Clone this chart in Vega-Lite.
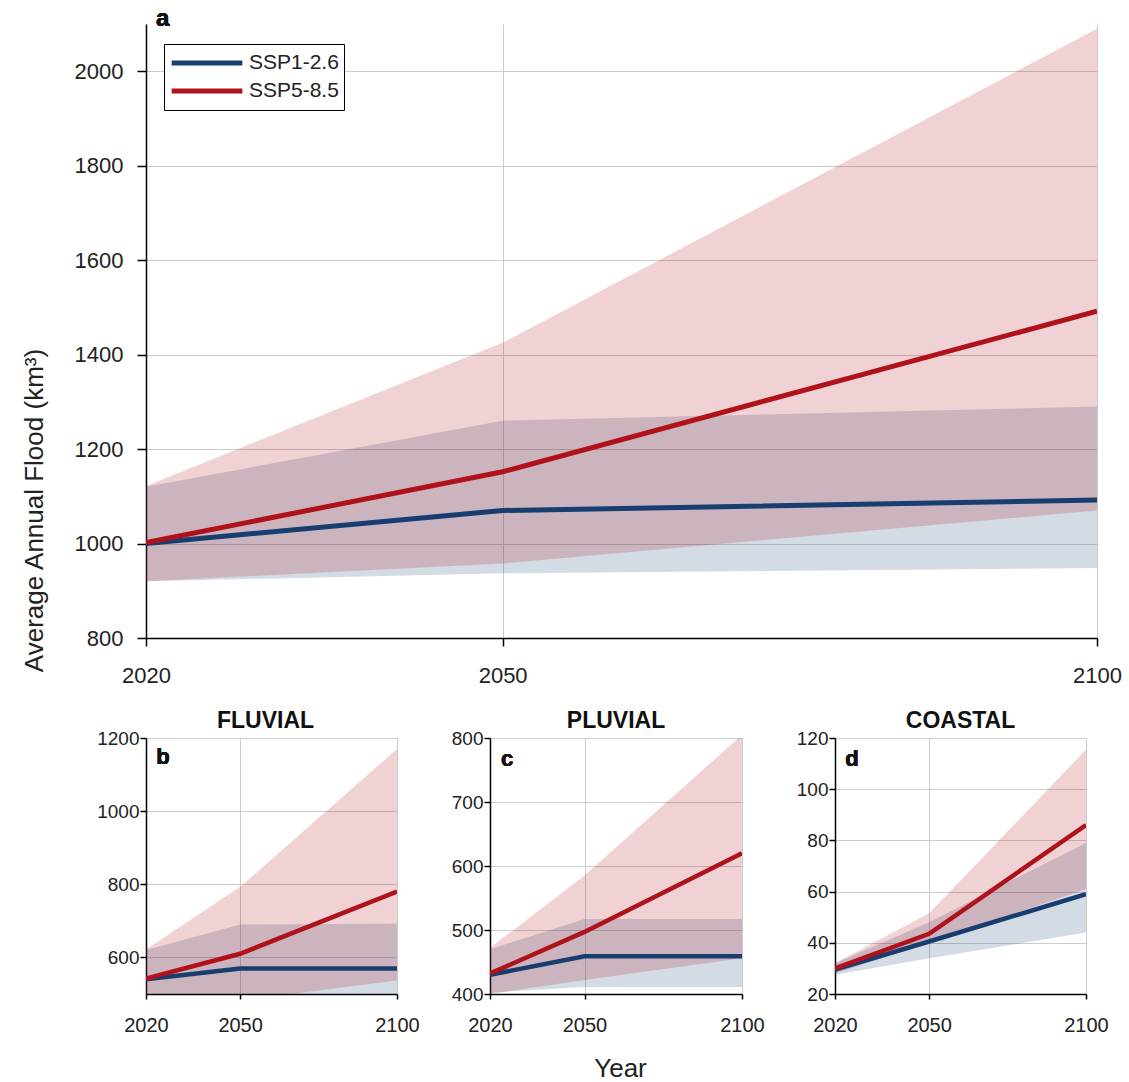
{
  "$schema": "https://vega.github.io/schema/vega-lite/v6.json",
  "padding": {"left": 21, "top": 6, "right": 0, "bottom": 2},
  "background": "#ffffff",
  "datasets": {
    "flood": [
      {"panel": "a", "scenario": "SSP1-2.6", "year": 2020, "med": 1000, "lo": 920, "hi": 1120},
      {"panel": "a", "scenario": "SSP1-2.6", "year": 2050, "med": 1070, "lo": 937, "hi": 1260},
      {"panel": "a", "scenario": "SSP1-2.6", "year": 2100, "med": 1092, "lo": 948, "hi": 1290},
      {"panel": "a", "scenario": "SSP5-8.5", "year": 2020, "med": 1002, "lo": 920, "hi": 1122},
      {"panel": "a", "scenario": "SSP5-8.5", "year": 2050, "med": 1152, "lo": 958, "hi": 1425},
      {"panel": "a", "scenario": "SSP5-8.5", "year": 2100, "med": 1492, "lo": 1070, "hi": 2090},
      {"panel": "b", "scenario": "SSP1-2.6", "year": 2020, "med": 540, "lo": 440, "hi": 620},
      {"panel": "b", "scenario": "SSP1-2.6", "year": 2050, "med": 570, "lo": 455, "hi": 690},
      {"panel": "b", "scenario": "SSP1-2.6", "year": 2100, "med": 570, "lo": 470, "hi": 692},
      {"panel": "b", "scenario": "SSP5-8.5", "year": 2020, "med": 542, "lo": 460, "hi": 622},
      {"panel": "b", "scenario": "SSP5-8.5", "year": 2050, "med": 610, "lo": 482, "hi": 793},
      {"panel": "b", "scenario": "SSP5-8.5", "year": 2100, "med": 780, "lo": 537, "hi": 1170},
      {"panel": "c", "scenario": "SSP1-2.6", "year": 2020, "med": 430, "lo": 402, "hi": 470},
      {"panel": "c", "scenario": "SSP1-2.6", "year": 2050, "med": 459, "lo": 411, "hi": 517},
      {"panel": "c", "scenario": "SSP1-2.6", "year": 2100, "med": 459, "lo": 411, "hi": 517},
      {"panel": "c", "scenario": "SSP5-8.5", "year": 2020, "med": 432, "lo": 400, "hi": 472},
      {"panel": "c", "scenario": "SSP5-8.5", "year": 2050, "med": 497, "lo": 422, "hi": 585},
      {"panel": "c", "scenario": "SSP5-8.5", "year": 2100, "med": 620, "lo": 456, "hi": 805},
      {"panel": "d", "scenario": "SSP1-2.6", "year": 2020, "med": 29.5, "lo": 27.5, "hi": 32},
      {"panel": "d", "scenario": "SSP1-2.6", "year": 2050, "med": 40.5, "lo": 34, "hi": 48},
      {"panel": "d", "scenario": "SSP1-2.6", "year": 2100, "med": 59, "lo": 44, "hi": 79},
      {"panel": "d", "scenario": "SSP5-8.5", "year": 2020, "med": 30, "lo": 28, "hi": 32},
      {"panel": "d", "scenario": "SSP5-8.5", "year": 2050, "med": 43.5, "lo": 40, "hi": 51.5},
      {"panel": "d", "scenario": "SSP5-8.5", "year": 2100, "med": 86, "lo": 61, "hi": 115.5}
    ]
  },
  "config": {
    "font": "Liberation Sans",
    "view": {"stroke": null},
    "axis": {
      "domainColor": "#000000", "domainWidth": 1.5,
      "tickColor": "#000000", "tickWidth": 1.5,
      "gridColor": "#cccccc", "gridWidth": 1,
      "labelColor": "#222222", "labelFont": "Liberation Sans",
      "titleFont": "Liberation Sans", "titleColor": "#222222", "titleFontWeight": "normal",
      "labelFlush": false, "labelOverlap": false, "format": "d"
    }
  },
  "resolve": {"scale": {"x": "independent", "y": "independent", "color": "independent"}},
  "bounds": "flush",
  "spacing": 100,
  "vconcat": [
    {
      "width": 951, "height": 614,
      "data": {"name": "flood"},
      "transform": [{"filter": "datum.panel === 'a'"}],
      "layer": [
        {
          "mark": {"type": "area", "clip": true, "fillOpacity": 0.19},
          "encoding": {
            "x": {"field": "year", "type": "quantitative", "scale": {"domain": [2020, 2100], "nice": false, "zero": false},
                  "axis": {"values": [2020, 2050, 2100], "format": "d", "title": null, "labelFontSize": 22, "tickSize": 8, "labelPadding": 19, "grid": true}},
            "y": {"field": "lo", "type": "quantitative", "scale": {"domain": [800, 2100], "nice": false, "zero": false},
                  "axis": {"values": [800, 1000, 1200, 1400, 1600, 1800, 2000], "format": "d", "labelFontSize": 22, "tickSize": 9, "labelPadding": 14, "grid": true,
                           "title": "Average Annual Flood (km³)", "titleFontSize": 26, "titleAngle": 270, "titleAlign": "center", "titleBaseline": "alphabetic", "titleX": -104, "titleY": 486}},
            "y2": {"field": "hi"},
            "color": {"field": "scenario", "type": "nominal", "scale": {"domain": ["SSP1-2.6", "SSP5-8.5"], "range": ["#173e6e", "#b0121c"]}}
          }
        },
        {
          "mark": {"type": "line", "strokeWidth": 5, "clip": true},
          "encoding": {
            "x": {"field": "year", "type": "quantitative"},
            "y": {"field": "med", "type": "quantitative"},
            "color": {"field": "scenario", "type": "nominal",
                      "legend": {"orient": "none", "legendX": 18, "legendY": 20, "title": null, "symbolType": "stroke", "symbolSize": 5000, "symbolStrokeWidth": 5,
                                 "symbolOpacity": 1, "clipHeight": 28, "rowPadding": 0, "labelFontSize": 21, "labelFont": "Liberation Sans", "labelColor": "#222222",
                                 "padding": 5, "strokeColor": "#000000", "fillColor": "#ffffff", "labelOffset": 4}}
          }
        },
        {
          "mark": {"type": "text", "fontSize": 24, "fontWeight": "bold", "align": "center", "baseline": "alphabetic", "color": "#111111"},
          "encoding": {
            "x": {"datum": 2021.4, "type": "quantitative"},
            "y": {"datum": 2096, "type": "quantitative"},
            "text": {"value": "a"}
          }
        }
      ]
    },
    {
      "bounds": "flush",
      "spacing": 93,
      "resolve": {"scale": {"x": "independent", "y": "independent", "color": "independent"}},
      "hconcat": [
        {
          "width": 251, "height": 256,
          "title": {"text": "FLUVIAL", "fontSize": 23, "fontWeight": "bold", "font": "Liberation Sans", "color": "#111111", "anchor": "middle", "frame": "group", "offset": -4, "dx": -6},
          "data": {"name": "flood"},
          "transform": [{"filter": "datum.panel === 'b'"}],
          "layer": [
            {
              "mark": {"type": "area", "clip": true, "fillOpacity": 0.19},
              "encoding": {
                "x": {"field": "year", "type": "quantitative", "scale": {"domain": [2020, 2100], "nice": false, "zero": false},
                      "axis": {"values": [2020, 2050, 2100], "format": "d", "title": null, "labelFontSize": 20, "tickSize": 5, "labelPadding": 16, "grid": true}},
                "y": {"field": "lo", "type": "quantitative", "scale": {"domain": [500, 1200], "nice": false, "zero": false},
                      "axis": {"values": [600, 800, 1000, 1200], "format": "d", "labelFontSize": 19, "tickSize": 6, "labelPadding": 1, "grid": true, "title": null}},
                "y2": {"field": "hi"},
                "color": {"field": "scenario", "type": "nominal", "scale": {"domain": ["SSP1-2.6", "SSP5-8.5"], "range": ["#173e6e", "#b0121c"]}, "legend": null}
              }
            },
            {
              "mark": {"type": "line", "strokeWidth": 4.5, "clip": true},
              "encoding": {
                "x": {"field": "year", "type": "quantitative"},
                "y": {"field": "med", "type": "quantitative"},
                "color": {"field": "scenario", "type": "nominal", "legend": null}
              }
            },
            {
              "mark": {"type": "text", "fontSize": 22, "fontWeight": "bold", "align": "center", "baseline": "alphabetic", "color": "#111111"},
              "encoding": {
                "x": {"datum": 2025.4, "type": "quantitative"},
                "y": {"datum": 1129, "type": "quantitative"},
                "text": {"value": "b"}
              }
            }
          ]
        },
        {
          "width": 252, "height": 256,
          "title": {"text": "PLUVIAL", "fontSize": 23, "fontWeight": "bold", "font": "Liberation Sans", "color": "#111111", "anchor": "middle", "frame": "group", "offset": -4},
          "data": {"name": "flood"},
          "transform": [{"filter": "datum.panel === 'c'"}],
          "layer": [
            {
              "mark": {"type": "area", "clip": true, "fillOpacity": 0.19},
              "encoding": {
                "x": {"field": "year", "type": "quantitative", "scale": {"domain": [2020, 2100], "nice": false, "zero": false},
                      "axis": {"values": [2020, 2050, 2100], "format": "d", "labelFontSize": 20, "tickSize": 5, "labelPadding": 16, "grid": true,
                               "title": "Year", "titleFontSize": 26, "titleAlign": "center", "titleBaseline": "alphabetic", "titleX": 130, "titleY": 82}},
                "y": {"field": "lo", "type": "quantitative", "scale": {"domain": [400, 800], "nice": false, "zero": false},
                      "axis": {"values": [400, 500, 600, 700, 800], "format": "d", "labelFontSize": 19, "tickSize": 6, "labelPadding": 1, "grid": true, "title": null}},
                "y2": {"field": "hi"},
                "color": {"field": "scenario", "type": "nominal", "scale": {"domain": ["SSP1-2.6", "SSP5-8.5"], "range": ["#173e6e", "#b0121c"]}, "legend": null}
              }
            },
            {
              "mark": {"type": "line", "strokeWidth": 4.5, "clip": true},
              "encoding": {
                "x": {"field": "year", "type": "quantitative"},
                "y": {"field": "med", "type": "quantitative"},
                "color": {"field": "scenario", "type": "nominal", "legend": null}
              }
            },
            {
              "mark": {"type": "text", "fontSize": 22, "fontWeight": "bold", "align": "center", "baseline": "alphabetic", "color": "#111111"},
              "encoding": {
                "x": {"datum": 2025.4, "type": "quantitative"},
                "y": {"datum": 756, "type": "quantitative"},
                "text": {"value": "c"}
              }
            }
          ]
        },
        {
          "width": 251, "height": 256,
          "title": {"text": "COASTAL", "fontSize": 23, "fontWeight": "bold", "font": "Liberation Sans", "color": "#111111", "anchor": "middle", "frame": "group", "offset": -4},
          "data": {"name": "flood"},
          "transform": [{"filter": "datum.panel === 'd'"}],
          "layer": [
            {
              "mark": {"type": "area", "clip": true, "fillOpacity": 0.19},
              "encoding": {
                "x": {"field": "year", "type": "quantitative", "scale": {"domain": [2020, 2100], "nice": false, "zero": false},
                      "axis": {"values": [2020, 2050, 2100], "format": "d", "title": null, "labelFontSize": 20, "tickSize": 5, "labelPadding": 16, "grid": true}},
                "y": {"field": "lo", "type": "quantitative", "scale": {"domain": [20, 120], "nice": false, "zero": false},
                      "axis": {"values": [20, 40, 60, 80, 100, 120], "format": "d", "labelFontSize": 19, "tickSize": 6, "labelPadding": 1, "grid": true, "title": null}},
                "y2": {"field": "hi"},
                "color": {"field": "scenario", "type": "nominal", "scale": {"domain": ["SSP1-2.6", "SSP5-8.5"], "range": ["#173e6e", "#b0121c"]}, "legend": null}
              }
            },
            {
              "mark": {"type": "line", "strokeWidth": 4.5, "clip": true},
              "encoding": {
                "x": {"field": "year", "type": "quantitative"},
                "y": {"field": "med", "type": "quantitative"},
                "color": {"field": "scenario", "type": "nominal", "legend": null}
              }
            },
            {
              "mark": {"type": "text", "fontSize": 22, "fontWeight": "bold", "align": "center", "baseline": "alphabetic", "color": "#111111"},
              "encoding": {
                "x": {"datum": 2025.4, "type": "quantitative"},
                "y": {"datum": 109, "type": "quantitative"},
                "text": {"value": "d"}
              }
            }
          ]
        }
      ]
    }
  ]
}
